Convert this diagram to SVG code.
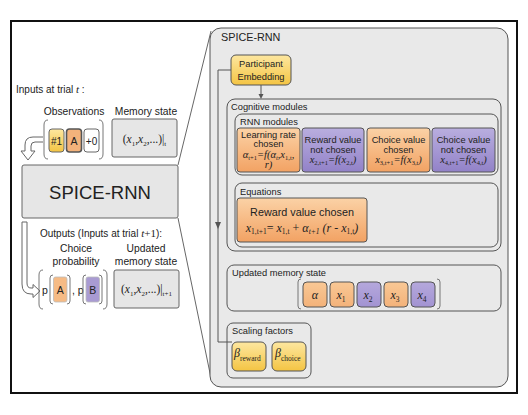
<svg xmlns="http://www.w3.org/2000/svg" width="528" height="415" viewBox="0 0 528 415">
<defs>
<linearGradient id="gOr" x1="0" y1="0" x2="0" y2="1"><stop offset="0" stop-color="#fbd2a6"/><stop offset="1" stop-color="#f2a263"/></linearGradient>
<linearGradient id="gPu" x1="0" y1="0" x2="0" y2="1"><stop offset="0" stop-color="#b9aedf"/><stop offset="1" stop-color="#9282c8"/></linearGradient>
<linearGradient id="gYe" x1="0" y1="0" x2="0" y2="1"><stop offset="0" stop-color="#fde7a0"/><stop offset="1" stop-color="#f4c443"/></linearGradient>
<linearGradient id="gOr2" x1="0" y1="0" x2="0" y2="1"><stop offset="0" stop-color="#f9c895"/><stop offset="1" stop-color="#f3b27a"/></linearGradient>
<linearGradient id="gPu2" x1="0" y1="0" x2="0" y2="1"><stop offset="0" stop-color="#b5a8dc"/><stop offset="1" stop-color="#a293d2"/></linearGradient>
<style>
.s{font-family:"Liberation Sans",Arial,sans-serif;fill:#222}
.m{font-family:"Liberation Serif","Times New Roman",serif;font-style:italic;fill:#222}
.r{font-family:"Liberation Serif","Times New Roman",serif;fill:#222}
.box{stroke:#555;stroke-width:1}
.grp{fill:none;stroke:#555;stroke-width:1}
.br{fill:none;stroke:#777;stroke-width:1}
.ln{fill:none;stroke:#555;stroke-width:1}
</style>
</defs>
<rect x="0" y="0" width="528" height="415" fill="#ffffff"/>
<rect x="11" y="21" width="506" height="372" fill="#ffffff" stroke="#111" stroke-width="2"/>

<g id="connectors">
<line x1="178" y1="165" x2="211" y2="31" stroke="#555" stroke-width="0.9"/>
<line x1="178" y1="218" x2="211" y2="378" stroke="#555" stroke-width="0.9"/>
</g>

<g id="panel">
<rect x="210" y="28" width="298" height="359" rx="11" fill="#e9e9e9" stroke="#555" stroke-width="1"/>
<text class="s" x="221" y="41" font-size="10.8">SPICE-RNN</text>
</g>

<g id="panel-connectors">
<polyline class="ln" points="231,70 218,70 218,342 232,342"/>
<path d="M215,222 L218,229 L221,222" fill="#555" stroke="none"/>
<line class="ln" x1="261" y1="85" x2="261" y2="95"/>
<path d="M258.5,94 L261,99 L263.5,94 Z" fill="#555"/>
</g>

<g id="participant-embedding">
<rect class="box" x="231" y="55" width="60" height="30" rx="5" fill="url(#gYe)"/>
<text class="s" x="261" y="67" font-size="9.3" text-anchor="middle">Participant</text>
<text class="s" x="261" y="80" font-size="9.3" text-anchor="middle">Embedding</text>
</g>

<g id="cognitive-modules">
<rect class="grp" x="227" y="99" width="274" height="152" rx="8"/>
<text class="s" x="231" y="110" font-size="9.3">Cognitive modules</text>
</g>

<g id="rnn-modules">
<rect class="grp" x="235" y="114" width="263" height="61" rx="7"/>
<text class="s" x="240" y="124.5" font-size="9.3">RNN modules</text>
</g>

<g id="learning-rate-chosen">
<rect class="box" x="237" y="128" width="63" height="44" rx="3" fill="url(#gOr)"/>
<text class="s" x="268.5" y="137.5" font-size="9.3" text-anchor="middle">Learning rate</text>
<text class="s" x="268.5" y="147" font-size="9.3" text-anchor="middle">chosen</text>
<text class="m" x="268.5" y="157.5" font-size="10.5" text-anchor="middle">α<tspan font-size="6.5" font-style="normal" dy="2">t+1</tspan><tspan dy="-2">=</tspan>f(α<tspan font-size="6.5" dy="2">t</tspan><tspan dy="-2">,</tspan>x<tspan font-size="6.5" font-style="normal" dy="2">1,t</tspan><tspan dy="-2">,</tspan></text>
<text class="m" x="268.5" y="167.5" font-size="10.5" text-anchor="middle">r)</text>
</g>

<g id="reward-value-not-chosen">
<rect class="box" x="302" y="128" width="62" height="44" rx="3" fill="url(#gPu)"/>
<text class="s" x="333" y="142.5" font-size="9.3" text-anchor="middle">Reward value</text>
<text class="s" x="333" y="152.5" font-size="9.3" text-anchor="middle">not chosen</text>
<text class="m" x="333" y="163" font-size="10.5" text-anchor="middle">x<tspan font-size="6.5" font-style="normal" dy="2">2,t+1</tspan><tspan dy="-2">=</tspan>f(x<tspan font-size="6.5" font-style="normal" dy="2">2,t</tspan><tspan dy="-2">)</tspan></text>
</g>

<g id="choice-value-chosen">
<rect class="box" x="367" y="128" width="63" height="44" rx="3" fill="url(#gOr)"/>
<text class="s" x="398.5" y="142.5" font-size="9.3" text-anchor="middle">Choice value</text>
<text class="s" x="398.5" y="152.5" font-size="9.3" text-anchor="middle">chosen</text>
<text class="m" x="398.5" y="163" font-size="10.5" text-anchor="middle">x<tspan font-size="6.5" font-style="normal" dy="2">3,t+1</tspan><tspan dy="-2">=</tspan>f(x<tspan font-size="6.5" font-style="normal" dy="2">3,t</tspan><tspan dy="-2">)</tspan></text>
</g>

<g id="choice-value-not-chosen">
<rect class="box" x="432" y="128" width="63" height="44" rx="3" fill="url(#gPu)"/>
<text class="s" x="463.5" y="142.5" font-size="9.3" text-anchor="middle">Choice value</text>
<text class="s" x="463.5" y="152.5" font-size="9.3" text-anchor="middle">not chosen</text>
<text class="m" x="463.5" y="163" font-size="10.5" text-anchor="middle">x<tspan font-size="6.5" font-style="normal" dy="2">4,t+1</tspan><tspan dy="-2">=</tspan>f(x<tspan font-size="6.5" font-style="normal" dy="2">4,t</tspan><tspan dy="-2">)</tspan></text>
</g>

<g id="equations">
<rect class="grp" x="235" y="183" width="263" height="64" rx="7"/>
<text class="s" x="240" y="195" font-size="9.3">Equations</text>
</g>

<g id="reward-value-chosen">
<rect class="box" x="237" y="198" width="130" height="44" rx="3" fill="url(#gOr)"/>
<text class="s" x="302" y="215.5" font-size="10.8" text-anchor="middle">Reward value chosen</text>
<text class="m" x="302" y="231.5" font-size="12" text-anchor="middle">x<tspan font-size="7.5" font-style="normal" dy="2.5">1,t+1</tspan><tspan dy="-2.5" font-style="normal">= </tspan>x<tspan font-size="7.5" font-style="normal" dy="2.5">1,t</tspan><tspan dy="-2.5" font-style="normal"> + </tspan>α<tspan font-size="7.5" dy="2.5">t+1</tspan><tspan dy="-2.5"> (r</tspan><tspan font-style="normal"> - </tspan>x<tspan font-size="7.5" font-style="normal" dy="2.5">1,t</tspan><tspan dy="-2.5">)</tspan></text>
</g>

<g id="updated-memory-state">
<rect class="grp" x="227" y="265" width="274" height="46" rx="7"/>
<text class="s" x="232" y="276" font-size="9.3">Updated memory state</text>
<path class="br" d="M301,279 Q298,279 298,282 V306 Q298,309 301,309"/>
<path class="br" d="M437,279 Q440,279 440,282 V306 Q440,309 437,309"/>
<rect class="box" x="303" y="282" width="24" height="25" rx="4" fill="url(#gOr2)"/>
<text class="m" x="315" y="298.5" font-size="12" text-anchor="middle">α</text>
<rect class="box" x="330" y="282" width="24" height="25" rx="4" fill="url(#gOr2)"/>
<text class="m" x="341" y="298.5" font-size="12" text-anchor="middle">x<tspan font-size="7.5" font-style="normal" dy="3">1</tspan></text>
<rect class="box" x="357" y="282" width="24" height="25" rx="4" fill="url(#gPu2)"/>
<text class="m" x="368" y="298.5" font-size="12" text-anchor="middle">x<tspan font-size="7.5" font-style="normal" dy="3">2</tspan></text>
<rect class="box" x="384" y="282" width="24" height="25" rx="4" fill="url(#gOr2)"/>
<text class="m" x="395" y="298.5" font-size="12" text-anchor="middle">x<tspan font-size="7.5" font-style="normal" dy="3">3</tspan></text>
<rect class="box" x="411" y="282" width="24" height="25" rx="4" fill="url(#gPu2)"/>
<text class="m" x="422" y="298.5" font-size="12" text-anchor="middle">x<tspan font-size="7.5" font-style="normal" dy="3">4</tspan></text>
</g>

<g id="scaling-factors">
<rect class="grp" x="227" y="323" width="84" height="55" rx="6"/>
<text class="s" x="232" y="334" font-size="9.3">Scaling factors</text>
<rect class="box" x="232" y="342" width="34" height="29" rx="5" fill="url(#gYe)"/>
<text class="m" x="234" y="357" font-size="12">β<tspan font-size="7.5" font-style="normal" dy="4">reward</tspan></text>
<rect class="box" x="272" y="342" width="34" height="29" rx="5" fill="url(#gYe)"/>
<text class="m" x="275" y="357" font-size="12">β<tspan font-size="7.5" font-style="normal" dy="4">choice</tspan></text>
</g>

<g id="inputs">
<text class="s" x="16" y="93" font-size="10">Inputs at trial <tspan class="m" font-size="11">t</tspan> :</text>
<text class="s" x="74" y="115" font-size="10.3" text-anchor="middle">Observations</text>
<text class="s" x="146" y="115" font-size="10.3" text-anchor="middle">Memory state</text>
<path class="br" d="M48,120 Q44,120 44,125 V154 Q44,159 48,159"/>
<path class="br" d="M99,120 Q103,120 103,125 V154 Q103,159 99,159"/>
<rect x="49" y="129" width="15" height="23" rx="3" fill="url(#gYe)" stroke="#666" stroke-width="1"/>
<text class="s" x="56.5" y="145" font-size="10" text-anchor="middle">#1</text>
<rect x="66.5" y="129" width="15" height="23" rx="3" fill="#f3b27b" stroke="#555" stroke-width="1.6"/>
<text class="s" x="74" y="145" font-size="10.5" text-anchor="middle">A</text>
<rect x="84" y="129" width="15" height="23" rx="3" fill="#ffffff" stroke="#666" stroke-width="1"/>
<text class="s" x="91.5" y="145" font-size="10" text-anchor="middle">+0</text>
<rect x="112" y="119" width="65" height="38" rx="2" fill="#e6e6e6" stroke="#666" stroke-width="1"/>
<text class="r" x="144.5" y="143" font-size="11.5" text-anchor="middle">(<tspan class="m">x</tspan><tspan font-size="7" dy="2.5">1</tspan><tspan dy="-2.5">,</tspan><tspan class="m">x</tspan><tspan font-size="7" dy="2.5">2</tspan><tspan dy="-2.5">,...)|</tspan><tspan font-size="7" dy="2.5">t</tspan></text>
<path d="M43,137 H33 Q25,137 25,145 V151 H21 L28,160 L35,151 H31 V146 Q31,142 35,142 H43" fill="#ffffff" stroke="#666" stroke-width="1"/>
</g>

<g id="spice-rnn">
<rect x="22" y="165" width="156" height="53" rx="2" fill="#e6e6e6" stroke="#666" stroke-width="1"/>
<text class="s" x="100" y="198.5" font-size="18.5" text-anchor="middle">SPICE-RNN</text>
</g>

<g id="outputs">
<path d="M22,222 V284 Q22,294 31,294 H33 V297.5 L40,291 L33,284.5 V288 H31 Q27,288 27,283 V222 Z" fill="#ffffff" stroke="#666" stroke-width="1"/>
<text class="s" x="40" y="237" font-size="10">Outputs (Inputs at trial <tspan class="m" font-size="11">t</tspan><tspan class="r" font-size="11">+1</tspan>):</text>
<text class="s" x="76" y="252" font-size="10.3" text-anchor="middle">Choice</text>
<text class="s" x="76" y="265" font-size="10.3" text-anchor="middle">probability</text>
<text class="s" x="146" y="252" font-size="10.3" text-anchor="middle">Updated</text>
<text class="s" x="146" y="265" font-size="10.3" text-anchor="middle">memory state</text>
<path class="br" d="M43,270 Q39,270 39,275 V304 Q39,309 43,309"/>
<path class="br" d="M103,270 Q107,270 107,275 V304 Q107,309 103,309"/>
<text class="s" x="42" y="294" font-size="10.5">p</text>
<path class="br" d="M53,275 Q50,275 50,278 V301 Q50,304 53,304"/>
<path class="br" d="M67,275 Q70,275 70,278 V301 Q70,304 67,304"/>
<rect x="53.5" y="277" width="13.5" height="25" rx="2" fill="#f6bb85" stroke="#bbb" stroke-width="0.8"/>
<text class="s" x="60.2" y="294" font-size="10.5" text-anchor="middle">A</text>
<text class="s" x="72" y="294" font-size="10.5">, p</text>
<path class="br" d="M86,275 Q83,275 83,278 V301 Q83,304 86,304"/>
<path class="br" d="M99,275 Q102,275 102,278 V301 Q102,304 99,304"/>
<rect x="86" y="277" width="13.5" height="25" rx="2" fill="#a99bd2" stroke="#bbb" stroke-width="0.8"/>
<text class="s" x="92.7" y="294" font-size="10.5" text-anchor="middle">B</text>
<rect x="114" y="270" width="65" height="38" rx="2" fill="#e6e6e6" stroke="#666" stroke-width="1"/>
<text class="r" x="146.5" y="293" font-size="11.5" text-anchor="middle">(<tspan class="m">x</tspan><tspan font-size="7" dy="2.5">1</tspan><tspan dy="-2.5">,</tspan><tspan class="m">x</tspan><tspan font-size="7" dy="2.5">2</tspan><tspan dy="-2.5">,...)|</tspan><tspan font-size="7" dy="2.5">t+1</tspan></text>
</g>
</svg>
